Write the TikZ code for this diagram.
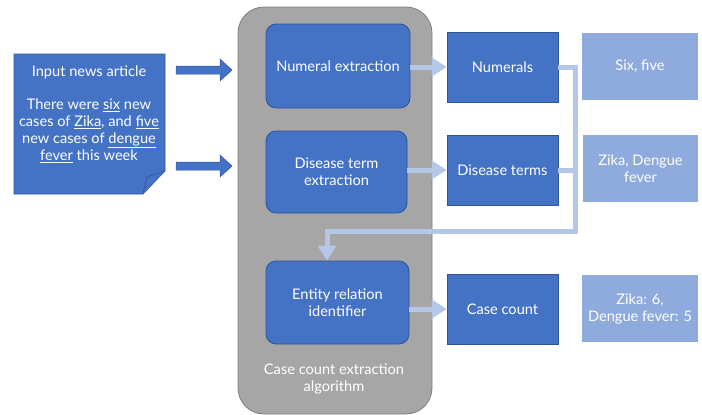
\documentclass[tikz,border=0pt]{standalone}
\usepackage{fontspec}
\setmainfont{Lato}
\usetikzlibrary{arrows.meta}

\definecolor{darkblue}{HTML}{4472C4}
\definecolor{darkedge}{HTML}{2F5597}
\definecolor{lightbox}{HTML}{8FAADC}
\definecolor{flowline}{HTML}{B4C7E7}
\definecolor{greybox}{HTML}{A6A6A6}
\definecolor{greyedge}{HTML}{7F7F7F}

\newcommand{\ul}[1]{\underline{#1}}

\tikzset{
  every node/.style={font=\fontsize{14.6}{17}\selectfont, text=white, align=center},
  container/.style={fill=greybox, draw=greyedge, line width=0.8pt, rounded corners=26pt},
  stagebox/.style={fill=darkblue, draw=darkedge, line width=0.8pt, rounded corners=10pt},
  resultbox/.style={fill=darkblue, draw=darkedge, line width=0.6pt},
  valuebox/.style={fill=lightbox},
  flow/.style={draw=flowline, line width=5pt, line join=miter,
    -{Triangle[length=15pt,width=18pt]}},
  flowplain/.style={draw=flowline, line width=5pt, line join=miter},
  blockarrow/.style={fill=darkblue, draw=darkedge, line width=0.5pt},
}

\begin{document}
\begin{tikzpicture}[x=1pt,y=-1pt]
\useasboundingbox (0,0) rectangle (702,415);

% input document with folded corner
\fill[darkblue, draw=darkedge, line width=0.6pt]
  (14,54) -- (165,54) -- (165,171) -- (143,194) -- (14,194) -- cycle;
\draw[darkedge, line width=0.6pt] (143,194) -- (147,177) -- (165,171);
\node (doctitle) at (89,72) {Input news article};
\node[anchor=north] (doctext) at (89,95)
  {There were \ul{six} new\\cases of \ul{Zika}, and \ul{five}\\new cases of \ul{dengue}\\\ul{fever} this week};

% block arrows into the algorithm
\coordinate (a1) at (176,70);
\coordinate (a2) at (176,166);
\foreach \c in {a1,a2}{
  \path[blockarrow] (\c) ++(0,-4) -- ++(44,0) -- ++(0,-7) -- ++(12,11) -- ++(-12,11)
    -- ++(0,-7) -- ++(-44,0) -- cycle;
}

% algorithm container
\path[container] (238,7) rectangle (432,414);
\node (caption) at (334,379) {Case count extraction\\algorithm};

% stages
\node[stagebox, minimum width=144pt, minimum height=84pt] (numx) at (338,66) {Numeral extraction};
\node[stagebox, minimum width=141pt, minimum height=82pt] (disx) at (336.5,172) {Disease term\\extraction};
\node[stagebox, minimum width=143pt, minimum height=83pt] (ent) at (337.5,302.5) {Entity relation\\identifier};

% results
\node[resultbox, minimum width=111pt, minimum height=70pt] (nums) at (502.5,67) {Numerals};
\node[resultbox, minimum width=111pt, minimum height=70pt] (dis) at (502.5,170) {Disease terms};
\node[resultbox, minimum width=111pt, minimum height=70pt] (cc) at (502.5,309) {Case count};

% values
\node[valuebox, minimum width=116pt, minimum height=67pt] (v1) at (640,66.5) {Six, five};
\node[valuebox, minimum width=115pt, minimum height=67pt] (v2) at (640.5,168.5) {Zika, Dengue\\fever};
\node[valuebox, minimum width=116pt, minimum height=67pt] (v3) at (640,308.5) {Zika: 6,\\Dengue fever: 5};

% flows
\draw[flow] (numx.east |- nums.west) -- (nums.west);
\draw[flow] (disx.east |- dis.west) -- (dis.west);
\draw[flow] (ent.east |- cc.west) -- (cc.west);

\coordinate (bend) at (575,231);
\draw[flowplain] (dis.east) -- (bend |- dis.east);
\draw[flow] (nums.east) -- (bend |- nums.east) -- (bend) -- (327,231) -- (327,261 |- ent.north);
\end{tikzpicture}
\end{document}
